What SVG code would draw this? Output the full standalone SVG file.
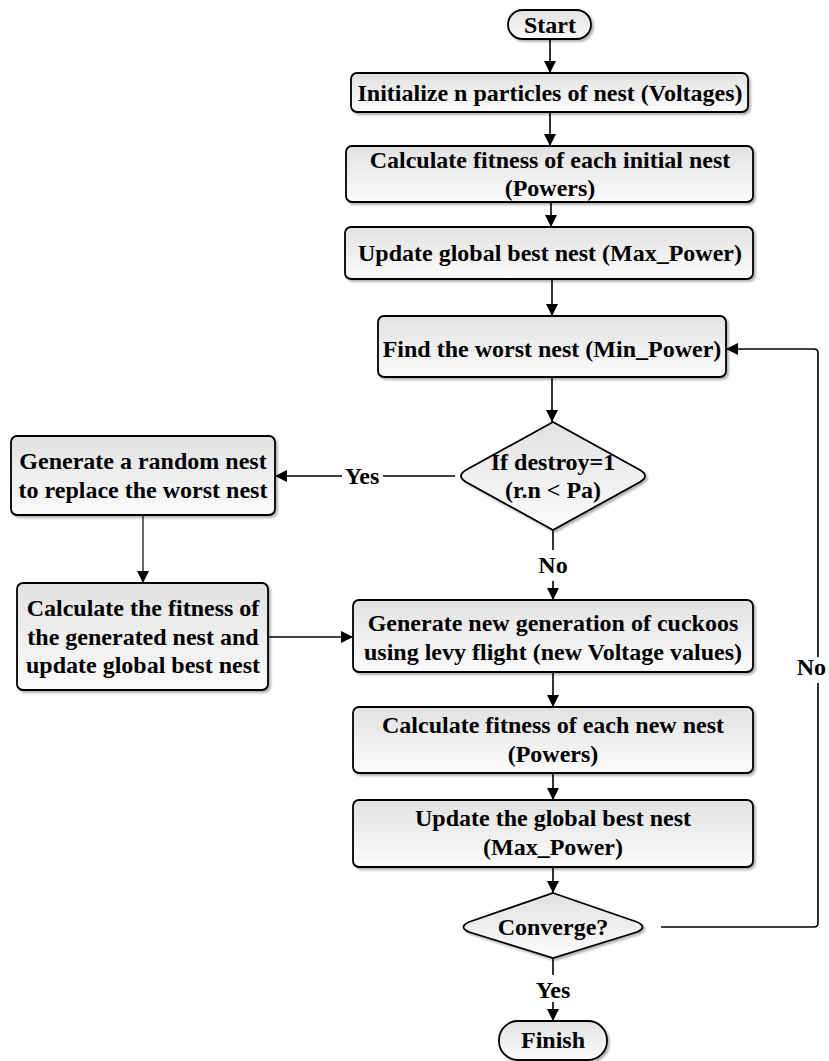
<svg xmlns="http://www.w3.org/2000/svg" width="829" height="1061" viewBox="0 0 829 1061">
<style>
.box{fill:url(#g);stroke:#000;stroke-width:1.8;filter:url(#sh)}
.t{font-family:"Liberation Serif","Times New Roman",serif;font-weight:bold;font-size:24px;fill:#000;text-anchor:middle}
.ln{fill:none;stroke:#000;stroke-width:1.6}
.thin{fill:none;stroke:#000;stroke-width:1.2}
</style>
<defs>
<linearGradient id="g" x1="0" y1="0" x2="0" y2="1">
<stop offset="0" stop-color="#e2e2e2"/>
<stop offset="1" stop-color="#fbfbfb"/>
</linearGradient>
<filter id="sh" x="-5%" y="-10%" width="110%" height="130%">
<feDropShadow dx="2" dy="2" stdDeviation="1.2" flood-color="#000" flood-opacity="0.3"/>
</filter>
<marker id="ah" viewBox="0 0 12 12" refX="12" refY="6" markerWidth="12" markerHeight="12" markerUnits="userSpaceOnUse" orient="auto">
<path d="M0,0 L12,6 L0,12 Z" fill="#000"/>
</marker>
</defs>

<g id="start"><rect class="box" x="508" y="10" width="83" height="29" rx="14.5"/><text class="t" x="550" y="33">Start</text></g>
<g id="init"><rect class="box" x="351" y="73" width="397" height="39" rx="6"/><text class="t" x="550" y="101">Initialize n particles of nest (Voltages)</text></g>
<g id="calc-init"><rect class="box" x="346" y="146" width="407" height="56" rx="6"/><text class="t" x="550" y="168">Calculate fitness of each initial nest</text><text class="t" x="550" y="196">(Powers)</text></g>
<g id="update-global"><rect class="box" x="345" y="227" width="408" height="52" rx="6"/><text class="t" x="550" y="261">Update global best nest (Max_Power)</text></g>
<g id="find-worst"><rect class="box" x="378" y="316" width="348" height="61" rx="6"/><text class="t" x="552" y="357">Find the worst nest (Min_Power)</text></g>
<g id="destroy"><path class="box" d="M553,422 L640,470 Q650,476 640,482 L553,530 L466,482 Q456,476 466,470 Z"/><text class="t" x="553" y="470">If destroy=1</text><text class="t" x="553" y="498">(r.n &lt; Pa)</text></g>
<g id="gen-random"><rect class="box" x="11" y="436" width="264" height="79" rx="6"/><text class="t" x="143" y="469">Generate a random nest</text><text class="t" x="143" y="498">to replace the worst nest</text></g>
<g id="calc-generated"><rect class="box" x="17" y="583" width="251" height="107" rx="6"/><text class="t" x="143" y="616">Calculate the fitness of</text><text class="t" x="143" y="645">the generated nest and</text><text class="t" x="143" y="673">update global best nest</text></g>
<g id="gen-new"><rect class="box" x="353" y="600" width="400" height="72" rx="6"/><text class="t" x="553" y="631">Generate new generation of cuckoos</text><text class="t" x="553" y="660">using levy flight (new Voltage values)</text></g>
<g id="calc-new"><rect class="box" x="353" y="707" width="400" height="66" rx="6"/><text class="t" x="553" y="733">Calculate fitness of each new nest</text><text class="t" x="553" y="762">(Powers)</text></g>
<g id="update-the-global"><rect class="box" x="353" y="800" width="400" height="67" rx="6"/><text class="t" x="553" y="826">Update the global best nest</text><text class="t" x="553" y="855">(Max_Power)</text></g>
<g id="converge"><path class="box" d="M553,893 L637,922 Q648,927 637,932 L553,958 L469,932 Q458,927 469,922 Z"/><text class="t" x="553" y="935">Converge?</text></g>
<g id="finish"><rect class="box" x="499" y="1021" width="108" height="39" rx="19"/><text class="t" x="553" y="1048">Finish</text></g>

<g id="connectors">
<line class="ln" x1="550" y1="39" x2="550" y2="73" marker-end="url(#ah)"/>
<line class="ln" x1="550" y1="112" x2="550" y2="146" marker-end="url(#ah)"/>
<line class="ln" x1="551" y1="202" x2="551" y2="227" marker-end="url(#ah)"/>
<line class="ln" x1="552" y1="279" x2="552" y2="316" marker-end="url(#ah)"/>
<line class="ln" x1="552" y1="377" x2="552" y2="422" marker-end="url(#ah)"/>
<line class="ln" x1="455" y1="476" x2="383" y2="476"/>
<line class="ln" x1="342" y1="476" x2="275" y2="476" marker-end="url(#ah)"/>
<text class="t" x="362" y="484">Yes</text>
<line class="ln" x1="553" y1="530" x2="553" y2="550"/>
<text class="t" x="553" y="573">No</text>
<line class="ln" x1="553" y1="581" x2="553" y2="600" marker-end="url(#ah)"/>
<line class="thin" x1="143" y1="515" x2="143" y2="583" marker-end="url(#ah)"/>
<line class="ln" x1="268" y1="637" x2="353" y2="637" marker-end="url(#ah)"/>
<line class="ln" x1="553" y1="672" x2="553" y2="707" marker-end="url(#ah)"/>
<line class="ln" x1="553" y1="773" x2="553" y2="800" marker-end="url(#ah)"/>
<line class="ln" x1="553" y1="867" x2="553" y2="893" marker-end="url(#ah)"/>
<path class="ln" d="M661,927 H814 Q818,927 818,923 V683"/>
<text class="t" x="826" y="675" style="text-anchor:end">No</text>
<path class="ln" d="M818,657 V353 Q818,349 814,349 H726" marker-end="url(#ah)"/>
<line class="ln" x1="553" y1="958" x2="553" y2="975"/>
<text class="t" x="553" y="998">Yes</text>
<line class="ln" x1="553" y1="1002" x2="553" y2="1021" marker-end="url(#ah)"/>
</g>
</svg>
